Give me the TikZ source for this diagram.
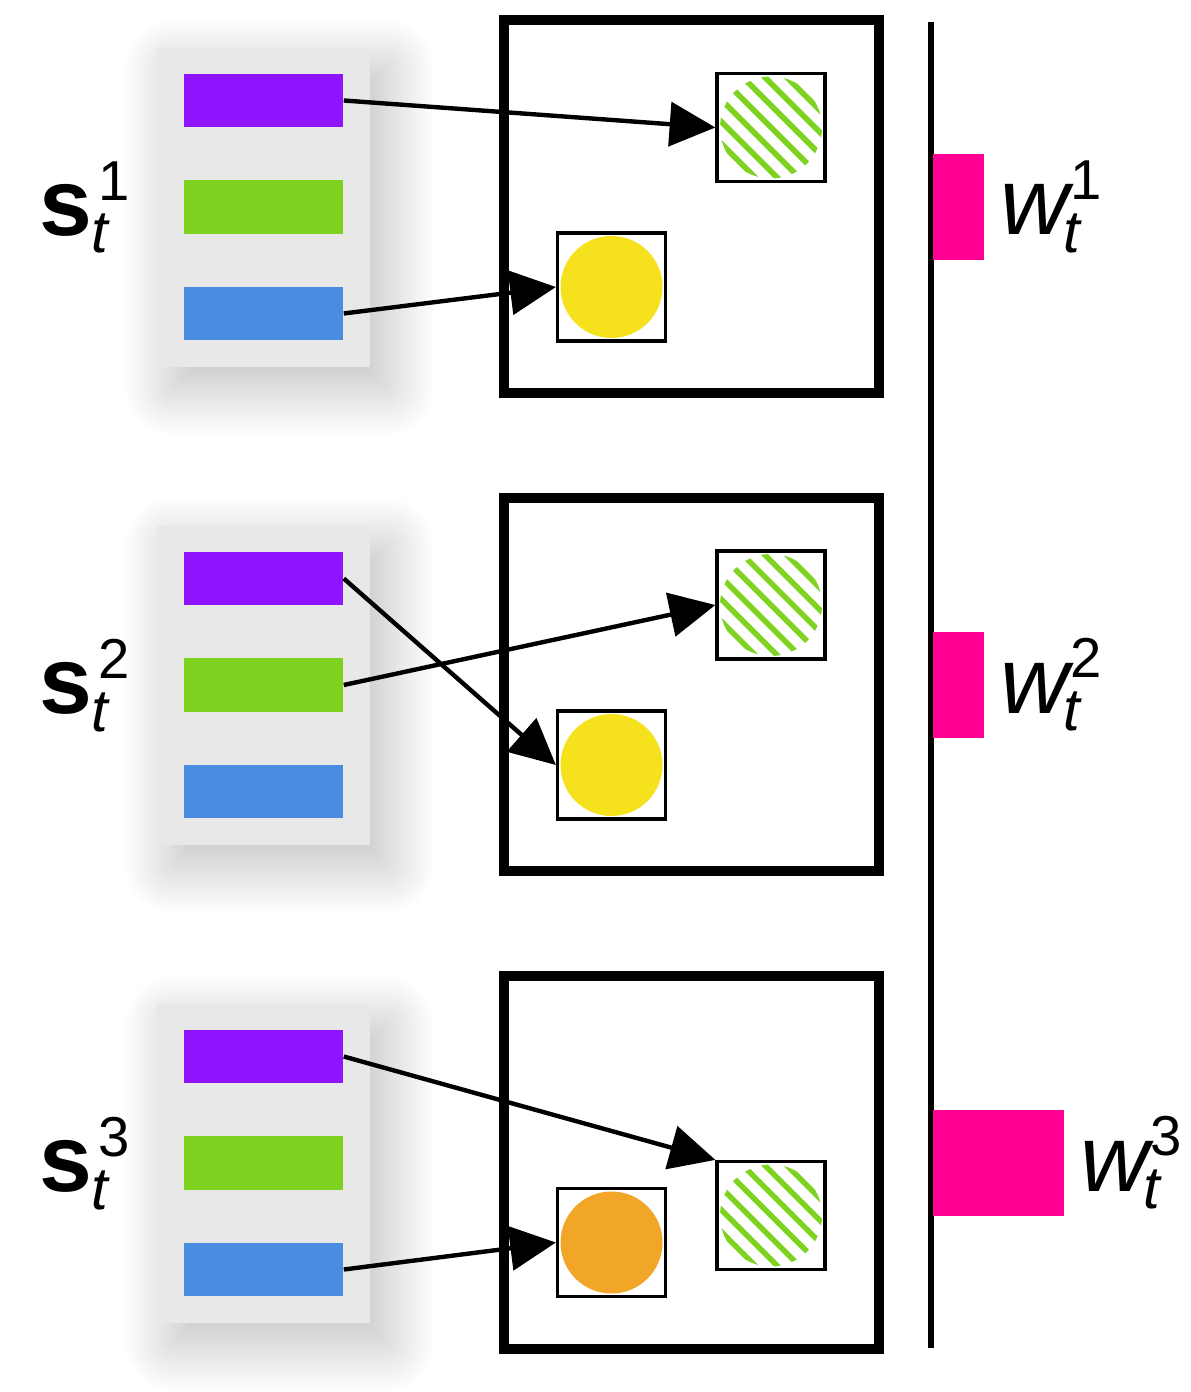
\documentclass[tikz,border=0pt]{standalone}
\usepackage{fontspec}
\setmainfont{Liberation Sans}
\usetikzlibrary{arrows.meta,positioning,shadows.blur}

\definecolor{panelgray}{HTML}{E8E8E8}
\definecolor{barpurple}{HTML}{9013FE}
\definecolor{bargreen}{HTML}{7ED321}
\definecolor{barblue}{HTML}{4A8DE0}
\definecolor{dotyellow}{HTML}{F5E21C}
\definecolor{dotorange}{HTML}{F2A628}
\definecolor{wpink}{HTML}{FF0092}

\newcommand{\supsub}[3][0pt]{%
  \kern#1\makebox[0pt][l]{\kern2pt\raisebox{10pt}{\fontsize{16}{16}\selectfont\mdseries\upshape #2}}%
  \raisebox{-5pt}{\fontsize{17}{17}\selectfont\mdseries\itshape #3}}

\begin{document}
\begin{tikzpicture}[x=0.01cm, y=-0.01cm,
    panel/.style={fill=panelgray, minimum width=2.13cm, minimum height=3.19cm, inner sep=0pt,
      blur shadow={shadow xshift=0.16cm, shadow yshift=-0.2cm, shadow blur radius=0.5cm,
        shadow blur steps=40, shadow opacity=26}},
    bar/.style={minimum width=1.59cm, minimum height=0.53cm, inner sep=0pt},
    frame/.style={draw, fill=white, line width=2.8pt, minimum width=3.75cm, minimum height=3.73cm, inner sep=0pt},
    slot/.style={draw, fill=white, line width=0.9pt, minimum size=1.08cm, inner sep=0pt},
    hatch/.style={bargreen, line width=1.6pt},
    link/.style={line width=1.25pt, -{Triangle[length=13pt, width=12.5pt]}},
    weight/.style={fill=wpink, minimum height=1.06cm, inner sep=0pt, anchor=west},
    lbl/.style={inner sep=0pt, font=\fontsize{27}{30}\selectfont}]

  \useasboundingbox (0,0) rectangle (1190,1392);

  \foreach \k in {1,2,3}{
    \node[panel] (pan\k) at (263.5,{207.5+478*(\k-1)}) {};
    \foreach \col [count=\j] in {barpurple,bargreen,barblue}
      \node[bar, fill=\col] (feat\k-\j) at (263.5,{100.5+478*(\k-1)+106.5*(\j-1)}) {};
    \node[lbl, left=0.47cm of pan\k] (s\k) {\textbf{s}\supsub{\k}{t}};
    \node[frame] (box\k) at (691.5,{206.5+478*(\k-1)}) {};
  }

  \node[slot] (h1) at (771,127.5) {};
  \node[slot] (c1) at (611.5,287) {};
  \node[slot] (h2) at (771,605) {};
  \node[slot] (c2) at (611.5,765) {};
  \node[slot] (h3) at (771,1215.5) {};
  \node[slot] (c3) at (611.5,1242.5) {};

  \fill[dotyellow] (c1.center) circle (51);
  \fill[dotyellow] (c2.center) circle (51);
  \fill[dotorange] (c3.center) circle (51);
  \foreach \h in {h1,h2,h3}{
    \begin{scope}
      \clip (\h.center) circle (51);
      \foreach \d in {-132,-110,...,132}
        \draw[hatch] ([shift={(\d-70,-70)}]\h.center) -- ++(140,140);
    \end{scope}
  }

  \draw[link] (feat1-1.east) -- (h1.west);
  \draw[link] (feat1-3.east) -- (c1.west);
  \draw[link] (feat2-1.east) -- (c2.west);
  \draw[link] (feat2-2.east) -- (h2.west);
  \draw[link] (feat3-1.east) -- (h3.north west);
  \draw[link] (feat3-3.east) -- (c3.west);

  \coordinate (axtop) at (931,22);
  \coordinate (axbot) at (931,1348);
  \draw[line width=1.7pt] (axtop) -- (axbot);

  \node[weight, minimum width=0.51cm] (w1) at (932,207) {};
  \node[weight, minimum width=0.51cm] (w2) at (932,685) {};
  \node[weight, minimum width=1.31cm] (w3) at (932,1163) {};
  \foreach \k in {1,2,3}
    \node[lbl, right=0.15cm of w\k] (wl\k) {\textit{w}\supsub[-3pt]{\k}{t}};
\end{tikzpicture}
\end{document}
